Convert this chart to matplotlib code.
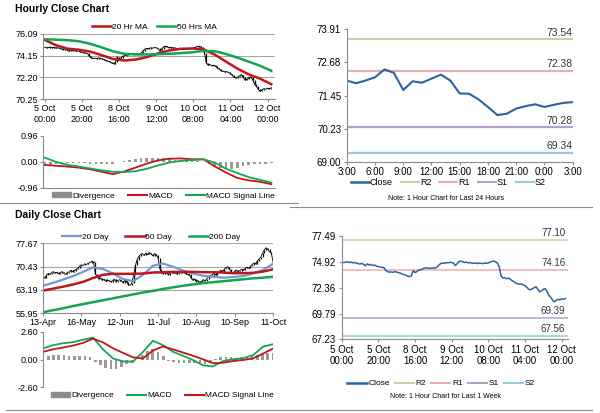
import numpy as np
import matplotlib
matplotlib.use("Agg")
import matplotlib.pyplot as plt
from matplotlib.patches import Patch
from matplotlib.lines import Line2D

plt.rcParams['font.family'] = ['Liberation Sans', 'DejaVu Sans']

# ---------------- data ----------------
# hourly close, last week (5 Oct 00:00 -> 12 Oct ~02:00)
hourly_close = [74.9, 74.85, 74.88, 74.92, 74.85, 74.9, 74.82, 74.86, 74.8,
                74.75, 74.7, 74.78, 74.65, 74.55, 74.72, 74.6,
                74.68, 74.55, 74.6, 74.5, 74.45, 74.4, 74.38, 74.35,
                74.1, 73.95, 73.9,
                73.92, 73.88, 73.95, 73.9, 73.85, 73.8,
                73.72, 73.65, 73.6, 73.5, 73.45,
                73.55, 74.05, 73.85, 73.95,
                74.1, 74.15, 74.2, 74.3,
                74.32, 74.3, 74.28, 74.3, 74.32, 74.3, 74.4,
                74.6, 74.75, 74.8, 74.78, 74.85,
                74.82, 74.88, 74.85, 74.8, 74.55, 74.75,
                74.95, 75.0, 74.95,
                74.85, 74.9, 74.82, 74.85, 74.8, 74.78, 74.82, 74.75, 74.8, 74.78,
                74.75, 74.8, 74.78, 74.82,
                74.9, 74.95, 75.0, 74.92, 74.8,
                74.4, 73.5,
                73.3, 73.35, 73.25, 73.3, 73.2,
                73.05, 72.95, 72.8, 72.75, 72.7,
                72.72, 72.65, 72.55, 72.4,
                72.2, 72.15, 72.25,
                72.35, 72.45, 72.2,
                71.95, 72.05, 72.2,
                72.25, 72.0,
                71.6, 71.4, 71.15,
                70.95,
                71.1, 71.2, 71.15, 71.25, 71.2, 71.28]
ma20_hr = [75.55, 75.08, 74.78, 74.68, 74.52, 74.2, 73.86, 73.72, 73.8, 74.02,
           74.35, 74.62, 74.76, 74.8, 74.72, 74.25, 73.62, 73.0, 72.48, 72.1, 71.6]
ma50_hr = [75.62, 75.58, 75.54, 75.44, 75.22, 74.9, 74.55, 74.32, 74.26, 74.26,
           74.28, 74.32, 74.38, 74.45, 74.58, 74.55, 74.3, 73.98, 73.62, 73.25, 72.8]
macd_hr = [-0.12, -0.15, -0.18, -0.22, -0.28, -0.37, -0.46, -0.36, -0.22, -0.07,
           0.05, 0.11, 0.12, 0.09, 0.09, -0.17, -0.40, -0.60, -0.69, -0.74, -0.83]
signal_hr = [0.15, -0.01, -0.12, -0.18, -0.25, -0.32, -0.37, -0.38, -0.35, -0.26,
             -0.14, -0.03, 0.03, 0.06, 0.09, -0.03, -0.26, -0.42, -0.57, -0.67, -0.77]
div_hr = [-0.15, -0.12, -0.1, -0.07, -0.05, -0.04, -0.04, -0.05, -0.07, -0.09,
          -0.1, -0.1, -0.08, -0.02, 0.03, 0.07, 0.1, 0.13, 0.15, 0.15,
          0.14, 0.12, 0.09, 0.06, 0.04, 0.03, 0.02, 0.01, 0.0, -0.1,
          -0.18, -0.25, -0.28, -0.27, -0.22, -0.17, -0.13, -0.1, -0.08, -0.07, -0.05]
hour_tick_labels = ["5 Oct\n00:00", "5 Oct\n20:00", "8 Oct\n16:00", "9 Oct\n12:00",
                    "10 Oct\n08:00", "11 Oct\n04:00", "12 Oct\n00:00"]

# daily close (13-Apr -> 11-Oct)
daily_close = [67.2, 66.9, 67.8, 68.3, 68.0, 68.6, 68.9, 68.4, 68.7, 68.2, 68.5,
               68.9, 68.3, 68.0, 68.6, 68.8, 69.3, 68.9, 69.2, 69.6, 69.9,
               70.6, 71.0, 70.8, 71.3, 71.1, 71.5, 71.7, 72.1, 71.8,
               68.2, 67.4, 66.6, 66.9, 66.2, 66.5, 65.9, 66.3, 66.0, 65.7, 66.2,
               66.5, 65.8, 66.1, 66.4, 66.0, 65.5, 66.2, 65.7, 64.8, 64.6, 65.4,
               67.8, 70.8, 72.6, 73.6, 74.2,
               74.5, 73.9, 74.6, 74.2, 74.8, 74.4, 73.8, 74.5, 74.1, 73.2,
               69.8, 68.6, 68.2, 68.8, 68.4, 67.9, 68.5, 68.9, 68.3, 68.7, 68.1, 68.6,
               69.0, 68.5, 68.8, 68.2, 67.9, 68.1,
               66.9, 66.2, 66.6, 65.8, 66.1, 65.5, 65.9, 66.4, 66.0, 66.7, 67.4,
               67.6, 67.9, 68.3, 67.8, 68.5, 68.9, 69.3, 68.8, 69.6, 70.1, 70.4, 69.6,
               68.8, 68.5, 69.0, 69.4, 68.9, 69.2, 69.7, 69.3, 69.9, 70.3, 69.9,
               70.5, 71.0, 71.6, 71.3, 72.2, 72.8, 73.4, 74.6, 75.6,
               76.3, 75.8, 75.1, 74.6, 72.0]
ma20_day = [64.5, 65.4, 66.4, 67.5, 68.8, 70.2, 69.7, 68.3, 66.6, 65.9, 67.9, 70.7,
            71.4, 70.4, 69.2, 68.3, 67.6, 67.3, 67.0, 67.2, 67.5, 68.3, 69.4, 71.3]
ma50_day = [63.0, 63.6, 64.2, 64.9, 65.7, 66.9, 67.9, 68.2, 68.2, 68.2, 68.3, 68.6,
            68.7, 68.8, 68.8, 68.8, 68.7, 68.7, 68.6, 68.4, 68.4, 68.5, 68.9, 69.6]
ma200_day = [56.3, 56.9, 57.5, 58.2, 58.8, 59.4, 60.0, 60.6, 61.2, 61.8, 62.4, 62.9,
             63.5, 64.0, 64.5, 64.9, 65.3, 65.6, 65.9, 66.2, 66.5, 66.8, 67.0, 67.3]
macd_day = [1.03, 1.34, 1.52, 1.62, 1.85, 2.05, 0.95, 0.1, -0.18, -0.2, 0.72, 1.75,
            1.34, 0.72, 0.35, -0.05, -0.55, -0.65, -0.15, 0.02, 0.12, 0.4, 1.2, 1.43]
signal_day = [0.72, 0.95, 1.12, 1.3, 1.55, 1.95, 1.6, 1.05, 0.62, 0.2, 0.1, 0.85,
              1.22, 0.95, 0.65, 0.35, 0.02, -0.35, -0.3, -0.15, -0.05, 0.1, 0.55, 1.03]
div_day = [0.3, 0.35, 0.4, 0.45, 0.4, 0.3, 0.3, 0.35, 0.3, 0.2, -0.2, -0.55, -0.8,
           -0.9, -0.85, -0.7, -0.45, -0.3, -0.05, 0.4, 0.8, 0.95, 0.7, 0.3, -0.1,
           -0.25, -0.3, -0.3, -0.3, -0.35, -0.35, -0.4, -0.3, 0.05, 0.2, 0.25, 0.2,
           0.15, 0.2, 0.25, 0.35, 0.45, 0.55, 0.65, 0.6]
day_tick_labels = ["13-Apr", "16-May", "12-Jun", "11-Jul", "10-Aug", "10-Sep", "11-Oct"]

# last 24 hours
h24_labels = ["3:00", "6:00", "9:00", "12:00", "15:00", "18:00", "21:00", "0:00", "3:00"]
h24_close = [72.01, 71.91, 72.01, 72.13, 72.42, 72.30, 71.66, 71.98, 71.93, 72.08,
             72.23, 72.01, 71.53, 71.52, 71.31, 71.03, 70.73, 70.78, 70.97, 71.06,
             71.13, 71.03, 71.11, 71.18, 71.21]
levels_24 = {"R2": 73.54, "R1": 72.38, "S1": 70.28, "S2": 69.34}
levels_wk = {"R2": 77.10, "R1": 74.16, "S1": 69.39, "S2": 67.56}

yt_hr = [70.25, 72.20, 74.15, 76.09]
yt_macd_hr = [-0.96, 0.00, 0.96]
yt_day = [55.95, 63.19, 70.43, 77.67]
yt_macd_day = [-2.60, 0.00, 2.60]
yt_24 = [69.00, 70.23, 71.45, 72.68, 73.91]
yt_wk = [67.23, 69.79, 72.36, 74.92, 77.49]

RED = "#c0161c"
GREEN = "#12a552"
BLUE = "#6b9bd2"
GRAY = "#8c8c8c"
CLOSE = "#2a64a0"
LVL_COL = {"R2": "#c3d69b", "R1": "#e6b0b0", "S1": "#b3a2c7", "S2": "#93cddd"}

fig = plt.figure(figsize=(6, 4.13), dpi=100)


def box(l, t, r, b):
    return [l / 600, 1 - b / 413, (r - l) / 600, (b - t) / 413]


def left_style(ax, yt, grid=True):
    ax.set_ylim(yt[0], yt[-1])
    ax.set_yticks(yt)
    ax.set_yticklabels(["%.2f" % v for v in yt])
    for s in ["top", "right"]:
        ax.spines[s].set_visible(False)
    for s in ["left", "bottom"]:
        ax.spines[s].set_color("#8c8c8c")
        ax.spines[s].set_linewidth(0.8)
    ax.tick_params(labelsize=6.5, length=2, color="#8c8c8c", pad=1.5)
    if grid:
        ax.yaxis.grid(True, color="#a6a6a6", lw=0.8)
        ax.set_axisbelow(True)


small_leg = dict(frameon=False, fontsize=6, handlelength=2.3, handletextpad=0.1,
                 columnspacing=1.2, borderaxespad=0.1)

n_hr = len(hourly_close)
xh = np.arange(n_hr)
hr_ticks = np.arange(0, 121, 20)

# ---- hourly close chart ----
ax1 = fig.add_axes(box(43, 34, 275, 99.3))
prev = np.r_[hourly_close[0], hourly_close[:-1]]
ax1.vlines(xh, np.minimum(prev, hourly_close), np.maximum(prev, hourly_close), color="black", lw=0.9)
ax1.plot(xh, hourly_close, color="black", lw=0.7)
xm = np.linspace(0, n_hr - 1, len(ma20_hr))
ax1.plot(xm, ma20_hr, color=RED, lw=1.8, label="20 Hr MA")
ax1.plot(xm, ma50_hr, color=GREEN, lw=1.8, label="50 Hrs MA")
left_style(ax1, yt_hr)
ax1.set_xlim(-1, 124)
ax1.set_xticks(hr_ticks)
ax1.set_xticklabels(hour_tick_labels)
ax1.legend(loc="lower center", bbox_to_anchor=(0.48, 0.98), ncol=2, **small_leg)

ax2 = fig.add_axes(box(43, 135.7, 275, 187.7))
xd = np.linspace(0, n_hr - 1, len(div_hr))
ax2.bar(xd, div_hr, width=1.4, color="#9a9a9a")
ax2.plot(xm, macd_hr, color=RED, lw=1.3)
ax2.plot(xm, signal_hr, color=GREEN, lw=1.3)
left_style(ax2, yt_macd_hr, grid=False)
ax2.set_xlim(-1, 124)
ax2.set_xticks(hr_ticks)
ax2.set_xticklabels([])
ax2.tick_params(axis="x", length=0)
h_macd = [Patch(color="#8c8c8c"), Line2D([], [], color=RED, lw=1.5), Line2D([], [], color=GREEN, lw=1.5)]
ax2.legend(h_macd, ["Divergence", "MACD", "MACD Signal Line"], loc="upper center",
           bbox_to_anchor=(0.52, -0.01), ncol=3, handleheight=0.5,
           **{**small_leg, "columnspacing": 1.6})

# ---- daily close chart ----
n_day = len(daily_close)
xday = np.arange(n_day)
day_ticks = np.linspace(0, n_day - 1, len(day_tick_labels))
ax3 = fig.add_axes(box(43, 243.3, 273, 313.3))
prevd = np.r_[daily_close[0], daily_close[:-1]]
ax3.vlines(xday, np.minimum(prevd, daily_close), np.maximum(prevd, daily_close), color="black", lw=0.9)
ax3.plot(xday, daily_close, color="black", lw=0.6)
xmd = np.linspace(0, n_day - 1, len(ma20_day))
ax3.plot(xmd, ma20_day, color=BLUE, lw=1.6, label="20 Day")
ax3.plot(xmd, ma50_day, color=RED, lw=1.8, label="50 Day")
ax3.plot(xmd, ma200_day, color=GREEN, lw=1.8, label="200 Day")
left_style(ax3, yt_day)
ax3.set_xlim(0, n_day - 1)
ax3.set_xticks(day_ticks)
ax3.set_xticklabels(day_tick_labels)
ax3.legend(loc="lower center", bbox_to_anchor=(0.47, 0.98), ncol=3,
           **{**small_leg, "columnspacing": 2.0})

ax4 = fig.add_axes(box(43, 331.7, 273, 387.3))
xdd = np.linspace(0, n_day - 1, len(div_day))
ax4.bar(xdd, div_day, width=1.5, color="#9a9a9a")
ax4.plot(xmd, macd_day, color=GREEN, lw=1.3)
ax4.plot(xmd, signal_day, color=RED, lw=1.3)
left_style(ax4, yt_macd_day, grid=False)
ax4.set_xlim(0, n_day - 1)
ax4.set_xticks([])
ax4.spines["bottom"].set_visible(False)
h_macd_d = [Patch(color="#8c8c8c"), Line2D([], [], color=GREEN, lw=1.5), Line2D([], [], color=RED, lw=1.5)]
ax4.legend(h_macd_d, ["Divergence", "MACD", "MACD Signal Line"], loc="upper center",
           bbox_to_anchor=(0.52, -0.01), ncol=3, handleheight=0.5,
           **{**small_leg, "columnspacing": 1.6})


# ---- pivot charts (right) ----
def right_style(ax, yt):
    ax.set_ylim(yt[0], yt[-1])
    ax.set_yticks(yt)
    ax.set_yticklabels(["%.2f" % v for v in yt])
    for s in ["top", "right"]:
        ax.spines[s].set_visible(False)
    for s in ["left", "bottom"]:
        ax.spines[s].set_color("#8c8c8c")
        ax.spines[s].set_linewidth(0.8)
    ax.tick_params(labelsize=7, length=2.5, color="#8c8c8c", pad=1.5)


ax5 = fig.add_axes(box(346.7, 29.3, 572.7, 161.7))
x24 = np.arange(len(h24_close))
for k, v in levels_24.items():
    ax5.axhline(v, color=LVL_COL[k], lw=1.6)
    ax5.text(len(h24_close) - 1, v + 0.04, "%.2f" % v, ha="right", va="bottom", fontsize=7.5, color="#333333")
ax5.plot(x24, h24_close, color=CLOSE, lw=1.5)
right_style(ax5, yt_24)
ax5.set_xlim(0, len(h24_close) - 1)
ax5.set_xticks(np.arange(0, len(h24_close), 3))
ax5.set_xticklabels(h24_labels)
h_lv = [Line2D([], [], color=CLOSE, lw=1.8)] + [Line2D([], [], color=LVL_COL[k], lw=1.5) for k in levels_24]
ax5.legend(h_lv, ["Close"] + list(levels_24.keys()), loc="upper center", bbox_to_anchor=(0.45, -0.09),
           ncol=5, frameon=False, fontsize=6.5, handlelength=2.0, handletextpad=0.1,
           columnspacing=0.9, borderaxespad=0.1)
fig.text(446 / 600, 1 - 199 / 413, "Note: 1 Hour Chart for Last 24 Hours", ha="center", va="center", fontsize=5)

ax6 = fig.add_axes(box(341.7, 236, 567.7, 339.3))
for k, v in levels_wk.items():
    ax6.axhline(v, color=LVL_COL[k], lw=1.1)
    ax6.text(n_hr - 1, v + 0.15, "%.2f" % v, ha="right", va="bottom", fontsize=7, color="#333333")
ax6.plot(xh, hourly_close, color=CLOSE, lw=1.1)
right_style(ax6, yt_wk)
ax6.set_xlim(0, 123.3)
ax6.set_xticks(hr_ticks)
ax6.set_xticklabels(hour_tick_labels)
ax6.legend(h_lv, ["Close"] + list(levels_wk.keys()), loc="upper center", bbox_to_anchor=(0.44, -0.35),
           ncol=5, frameon=False, fontsize=6, handlelength=2.3, handletextpad=0.2,
           columnspacing=0.6, borderaxespad=0.1)
fig.text(445 / 600, 1 - 397 / 413, "Note: 1 Hour Chart for Last 1 Week", ha="center", va="center", fontsize=5)

# ---- titles and separators ----
fig.text(15 / 600, 1 - 9 / 413, "Hourly Close Chart", fontsize=7.5, fontweight="bold", va="center")
fig.text(15 / 600, 1 - 215 / 413, "Daily Close Chart", fontsize=7.5, fontweight="bold", va="center")
fig.add_artist(Line2D([0, 298 / 600], [1 - 203 / 413] * 2, color="#8c8c8c", lw=0.8))
fig.add_artist(Line2D([290 / 600, 592 / 600], [1 - 207 / 413] * 2, color="#8c8c8c", lw=0.8))
fig.add_artist(Line2D([6 / 600, 592 / 600], [1 - 410 / 413] * 2, color="#8c8c8c", lw=0.8))

fig.savefig("out.png", dpi=100)
